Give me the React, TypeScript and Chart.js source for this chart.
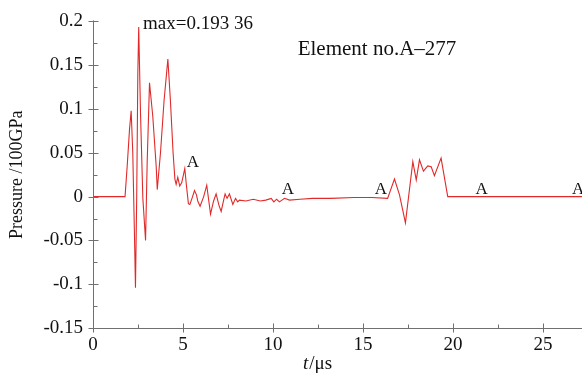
import React, { useEffect, useRef } from 'react';
import { Chart, registerables } from 'chart.js';

Chart.register(...registerables);

// time (µs)
const timeUs = [
  0, 1.78, 1.9, 2.03, 2.12, 2.21, 2.31, 2.36, 2.43, 2.49, 2.54, 2.64, 2.77, 2.92, 3.01, 3.14,
  3.32, 3.51, 3.57, 3.75, 3.95, 4.16, 4.3, 4.45, 4.55, 4.62, 4.71, 4.82, 4.93, 5.1, 5.18,
  5.3, 5.38, 5.5, 5.64, 5.75, 5.82, 5.95, 6.15, 6.32, 6.53, 6.7, 6.84, 7.0, 7.12, 7.25, 7.34,
  7.45, 7.58, 7.77, 7.92, 8.04, 8.14, 8.5, 8.9, 9.3, 9.6, 9.9, 10.05, 10.2, 10.36, 10.64, 10.92,
  11.5, 12.2, 13.2, 14.5, 15.5, 16.37, 16.75, 17.03, 17.36, 17.77, 17.96, 18.14, 18.36, 18.6,
  18.79, 18.97, 19.34, 19.71, 22, 24, 27.2,
];
// pressure (100 GPa)
const pressure = [
  0, 0, 0.035, 0.077, 0.098, 0.05, -0.05, -0.104, 0.002, 0.14, 0.1936, 0.095, -0.002, -0.05, 0.039, 0.13,
  0.092, 0.035, 0.008, 0.05, 0.11, 0.157, 0.11, 0.05, 0.02, 0.014, 0.022, 0.012, 0.016, 0.032, 0.015,
  -0.008, -0.009, -0.002, 0.007, 0.002, -0.005, -0.011, 0.0, 0.013, -0.02, -0.005, 0.003, -0.01, -0.017, -0.005, 0.003,
  -0.002, 0.003, -0.009, -0.002, -0.006, -0.004, -0.005, -0.003, -0.005, -0.004, -0.002, -0.006, -0.003, -0.006, -0.002, -0.004,
  -0.003, -0.002, -0.002, -0.001, -0.001, -0.002, 0.02, 0.002, -0.03, 0.04, 0.019, 0.042, 0.029, 0.035,
  0.034, 0.024, 0.044, 0, 0, 0, 0,
];

const xTickValues = [0, 5, 10, 15, 20, 25];
const yTickValues = [-0.15, -0.1, -0.05, 0, 0.05, 0.1, 0.15, 0.2];

// node marker labels "A"
const nodeLabelT = [5.55, 10.83, 16.0, 21.6, 26.95];
const nodeLabelP = [0.039, 0.008, 0.008, 0.008, 0.008];
const nodeLabelText = 'A';

const maxText = 'max=0.193 36';
const maxTextPos = [2.78, 0.197];
const elementText = 'Element no.A\u2013277';
const elementTextPos = [15.78, 0.168];
const yTitle = 'Pressure /100GPa';

const SERIF = '"Liberation Serif", "DejaVu Serif", serif';

const decorPlugin = {
  id: 'decor',
  afterDraw(chart: any) {
    const ctx = chart.ctx;
    const xs = chart.scales.x;
    const ys = chart.scales.y;
    const { left, right, top, bottom } = chart.chartArea;
    ctx.save();
    ctx.strokeStyle = '#707070';
    ctx.lineWidth = 1;
    ctx.beginPath();
    // y axis line
    const ax = Math.round(left) + 0.5;
    ctx.moveTo(ax, top - 1);
    ctx.lineTo(ax, bottom);
    for (let i = 0; i <= 14; i++) {
      const v = ys.min + i * 0.025;
      const y = Math.round(ys.getPixelForValue(v)) + 0.5;
      if (i % 2 === 0) {
        ctx.moveTo(ax - 5, y);
        ctx.lineTo(ax + 5, y);
      } else {
        ctx.moveTo(ax, y);
        ctx.lineTo(ax + 4, y);
      }
    }
    // x axis line
    const by = Math.round(bottom) + 0.5;
    ctx.moveTo(left, by);
    ctx.lineTo(right, by);
    for (let i = 0; i * 2.5 <= xs.max; i++) {
      const v = i * 2.5;
      const x = Math.round(xs.getPixelForValue(v)) + 0.5;
      if (i % 2 === 0) {
        ctx.moveTo(x, by - 5);
        ctx.lineTo(x, by + 4);
      } else {
        ctx.moveTo(x, by - 4);
        ctx.lineTo(x, by);
      }
    }
    ctx.stroke();

    ctx.fillStyle = '#111';
    ctx.textBaseline = 'middle';
    // A labels
    ctx.font = `17px ${SERIF}`;
    ctx.textAlign = 'center';
    for (let i = 0; i < nodeLabelT.length; i++) {
      ctx.fillText(nodeLabelText, xs.getPixelForValue(nodeLabelT[i]), ys.getPixelForValue(nodeLabelP[i]));
    }
    // max text
    ctx.font = `19px ${SERIF}`;
    ctx.textAlign = 'left';
    ctx.fillText(maxText, xs.getPixelForValue(maxTextPos[0]), ys.getPixelForValue(maxTextPos[1]));
    // element text
    ctx.font = `21px ${SERIF}`;
    ctx.textAlign = 'center';
    ctx.fillText(elementText, xs.getPixelForValue(elementTextPos[0]), ys.getPixelForValue(elementTextPos[1]));

    // x title: italic t + /µs
    const cx = xs.getPixelForValue(12.45);
    const cy = bottom + 36;
    ctx.font = `italic 19px ${SERIF}`;
    const w1 = ctx.measureText('t').width;
    ctx.font = `19px ${SERIF}`;
    const w2 = ctx.measureText('/\u03bcs').width;
    const sx = cx - (w1 + w2) / 2;
    ctx.textAlign = 'left';
    ctx.font = `italic 19px ${SERIF}`;
    ctx.fillText('t', sx, cy);
    ctx.font = `19px ${SERIF}`;
    ctx.fillText('/\u03bcs', sx + w1 + 1, cy);
    ctx.restore();
  },
};

export default function App() {
  const ref = useRef<HTMLCanvasElement | null>(null);
  useEffect(() => {
    if (!ref.current) return;
    const data = timeUs.map((t, i) => ({ x: t, y: pressure[i] }));
    const chart = new Chart(ref.current, {
      type: 'line',
      data: {
        datasets: [
          {
            data,
            borderColor: '#e02a2a',
            borderWidth: 1.1,
            pointRadius: 0,
            tension: 0,
            fill: false,
          },
        ],
      },
      options: {
        responsive: false,
        animation: false,
        layout: { padding: { top: 16, right: 0, left: 0, bottom: 0 } },
        plugins: { legend: { display: false }, tooltip: { enabled: false } },
        scales: {
          x: {
            type: 'linear',
            min: 0,
            max: 27.17,
            grid: { display: false, drawTicks: false, tickLength: 0 },
            border: { display: false },
            afterFit: (s: any) => { s.height = 52; },
            afterBuildTicks: (s: any) => { s.ticks = xTickValues.map((v) => ({ value: v })); },
            ticks: {
              includeBounds: false,
              padding: 6,
              color: '#111',
              font: { family: SERIF, size: 19 },
              maxRotation: 0,
              callback: (v: any) => String(v),
            },
          },
          y: {
            type: 'linear',
            min: -0.15,
            max: 0.2,
            grid: { display: false, drawTicks: false, tickLength: 0 },
            border: { display: false },
            afterFit: (s: any) => { s.width = 93; },
            afterBuildTicks: (s: any) => { s.ticks = yTickValues.map((v) => ({ value: v })); },
            ticks: {
              padding: 10,
              color: '#111',
              font: { family: SERIF, size: 19 },
              callback: (v: any) => String(+Number(v).toFixed(2)),
            },
            title: {
              display: true,
              text: yTitle,
              color: '#111',
              font: { family: SERIF, size: 18 },
              padding: { top: 6, bottom: 0 },
            },
          },
        },
      },
      plugins: [decorPlugin],
    });
    return () => chart.destroy();
  }, []);
  return (
    <div style={{ position: 'fixed', left: 0, top: 0, width: 582, height: 380, background: '#fff' }}>
      <canvas ref={ref} width={582} height={380} />
    </div>
  );
}
